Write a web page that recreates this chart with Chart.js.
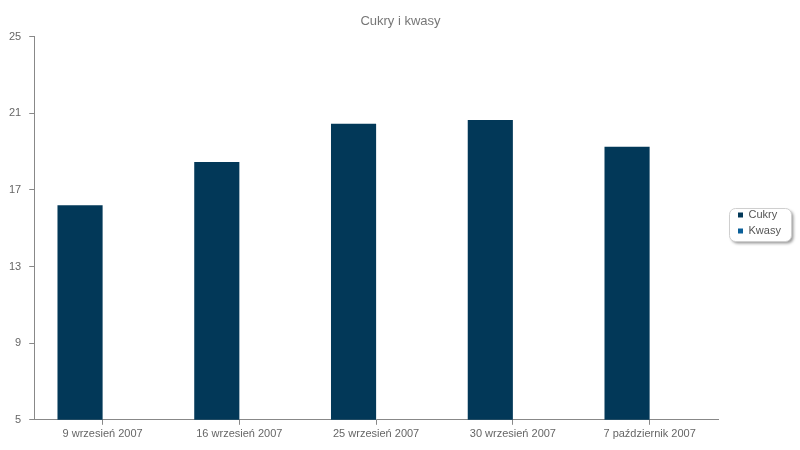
<!DOCTYPE html>
<html><head><meta charset="utf-8">
<script src="https://cdn.jsdelivr.net/npm/chart.js@4/dist/chart.umd.min.js"></script>
<style>html,body{margin:0;padding:0;background:#fff}#w{width:800px;height:450px}</style>
</head><body><div id="w"><canvas id="c"></canvas></div>
<script>
const categories = ["9 wrzesień 2007","16 wrzesień 2007","25 wrzesień 2007","30 wrzesień 2007","7 październik 2007"];
const cukry = [16.2, 18.45, 20.45, 20.65, 19.25];
const kwasy = [null, null, null, null, null];
const yTicks = [5, 9, 13, 17, 21, 25];

const FONT = "'Liberation Sans', Arial, sans-serif";
const LEGEND_W = 82, LEGEND_SHIFT = 15;

const legendBox = {
  id: 'legendBox',
  afterInit(chart) {
    const l = chart.legend;
    const fit = l.fit;
    l.fit = function () { fit.call(this); this.width = LEGEND_W; };
    const draw = l.draw;
    l.draw = function () {
      const ctx = this.ctx;
      const hb = this.legendHitBoxes;
      if (hb && hb.length) {
        const c1 = hb[0].top + hb[0].height / 2;
        const c2 = hb[hb.length - 1].top + hb[hb.length - 1].height / 2;
        const x = this.left + 11, y = c1 - 8, w = 62, h = (c2 - c1) + 17;
        ctx.save();
        ctx.shadowColor = 'rgba(0,0,0,0.4)';
        ctx.shadowBlur = 3; ctx.shadowOffsetX = 2; ctx.shadowOffsetY = 2;
        ctx.beginPath(); ctx.roundRect(x + 0.5, y + 0.5, w, h, 6);
        ctx.fillStyle = '#fff'; ctx.fill();
        ctx.shadowColor = 'transparent';
        ctx.strokeStyle = '#cfcfcf'; ctx.lineWidth = 1; ctx.stroke();
        ctx.restore();
      }
      ctx.save(); ctx.translate(LEGEND_SHIFT, -1);
      draw.apply(this, arguments);
      ctx.restore();
    };
  }
};

new Chart(document.getElementById('c'), {
  type: 'bar',
  data: {
    labels: categories,
    datasets: [
      { label: 'Cukry', data: cukry, backgroundColor: '#023858', borderWidth: 0,
        categoryPercentage: 0.66, barPercentage: 1 },
      { label: 'Kwasy', data: kwasy, backgroundColor: '#0a5f99', borderWidth: 0,
        categoryPercentage: 0.66, barPercentage: 1 }
    ]
  },
  options: {
    responsive: true, maintainAspectRatio: false, animation: false,
    layout: { padding: { left: 1, right: 0, top: 4, bottom: 6 } },
    plugins: {
      title: { display: true, text: 'Cukry i kwasy', color: '#777', font: { family: FONT, size: 13, weight: 'normal' }, padding: { top: 10, bottom: 7 } },
      legend: { position: 'right', labels: { color: '#555', font: { family: FONT, size: 11 }, boxWidth: 5, boxHeight: 5, padding: 5 } },
      tooltip: { enabled: false }
    },
    scales: {
      x: {
        grid: { drawOnChartArea: false, drawTicks: true, tickLength: 5, offset: false, color: '#888' },
        border: { color: '#888' },
        ticks: { color: '#666', font: { family: FONT, size: 11 }, maxRotation: 0, padding: 3 }
      },
      y: {
        min: 5, max: 25,
        afterBuildTicks(axis) { axis.ticks = yTicks.map(v => ({ value: v })); },
        grid: { drawOnChartArea: false, drawTicks: true, tickLength: 5, color: '#888' },
        border: { color: '#888' },
        ticks: { color: '#666', font: { family: FONT, size: 11 }, padding: 8 }
      }
    }
  },
  plugins: [legendBox]
});
</script></body></html>
